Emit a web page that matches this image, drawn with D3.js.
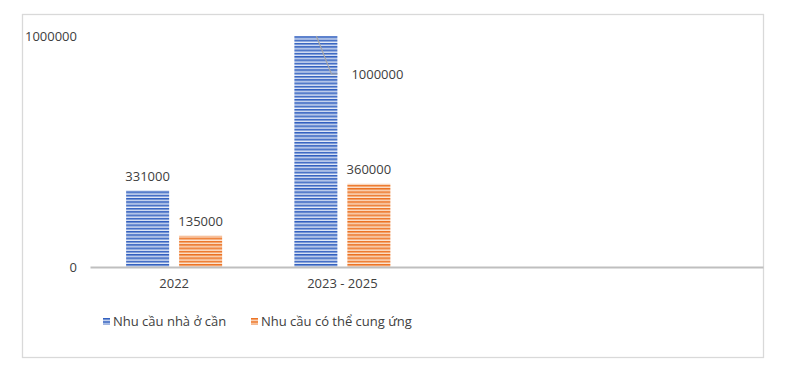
<!DOCTYPE html>
<html><head><meta charset="utf-8">
<script src="https://cdn.jsdelivr.net/npm/d3@7"></script>
<style>body{margin:0;background:#fff}svg{display:block}text{font-family:"Open Sans",sans-serif}</style>
</head><body><svg id="c" width="800" height="370"></svg>
<script>
const categories = ["2022", "2023 - 2025"];
const slotCount = 4;
const seriesNames = ["Nhu cầu nhà ở cần", "Nhu cầu có thể cung ứng"];
const demand = [331000, 1000000];
const supply = [135000, 360000];
const yTicks = [0, 1000000];

const svg = d3.select("#c");
const plot = {l: 90, r: 763, t: 36, b: 267};
const colors = [
  {dark: "#2F5DBE", mid: "#7797D6", light: "#E6ECF8"},
  {dark: "#EB7020", mid: "#F4A56E", light: "#FCE6D5"}
];
const defs = svg.append("defs");
colors.forEach((c, i) => {
  const p = defs.append("pattern").attr("id", "pat" + i).attr("patternUnits", "userSpaceOnUse")
    .attr("width", 4).attr("height", 3.3);
  p.append("rect").attr("width", 4).attr("height", 3.3).attr("fill", c.mid);
  p.append("rect").attr("width", 4).attr("height", 1.1).attr("y", 0).attr("fill", c.dark);
  p.append("rect").attr("width", 4).attr("height", 1.1).attr("y", 2.2).attr("fill", c.light);
});

svg.append("rect").attr("x", 22.5).attr("y", 14.5).attr("width", 741).attr("height", 343)
  .attr("fill", "#fff").attr("stroke", "#D9D9D9").attr("stroke-width", 1.3);

const x = d3.scaleBand().domain(d3.range(slotCount)).range([plot.l, plot.r]);
const y = d3.scaleLinear().domain([0, 1000000]).range([plot.b, plot.t]);
const barW = 43, gap = 10;
const offset = si => si === 0 ? -(gap / 2 + barW) : gap / 2;
const fs = 13, txt = "#404040";

svg.append("g").selectAll("text").data(yTicks).join("text")
  .attr("x", 77).attr("y", d => y(d) + 4.5).attr("text-anchor", "end")
  .attr("font-size", fs).attr("fill", txt).text(d => d3.format("d")(d));

const series = [demand, supply];
series.forEach((vals, si) => {
  svg.append("g").selectAll("rect").data(vals).join("rect")
    .attr("x", (d, i) => x(i) + x.bandwidth() / 2 + offset(si))
    .attr("y", d => y(d)).attr("width", barW).attr("height", d => y(0) - y(d))
    .attr("fill", `url(#pat${si})`);
});

const xAxis = d3.axisBottom(x).tickSize(0).tickFormat(i => categories[i] || "");
const ga = svg.append("g").attr("transform", `translate(0,${y(0)})`).call(xAxis);
ga.select(".domain").attr("stroke", "#BFBFBF").attr("stroke-width", 2);
ga.selectAll("text").attr("font-size", fs).attr("fill", txt).attr("dy", 0).attr("y", 21)
  .attr("font-family", "Open Sans, sans-serif");

series.forEach((vals, si) => {
  vals.forEach((v, i) => {
    const bx = x(i) + x.bandwidth() / 2 + offset(si);
    const cx = bx + barW / 2;
    if (v >= 1000000) {
      const ly = y(v) + 38;
      svg.append("path")
        .attr("d", `M${bx + 22},${y(v)} L${bx + 37},${ly} L${bx + barW},${ly}`)
        .attr("fill", "none").attr("stroke", "#A6A6A6").attr("stroke-width", 1.2);
      svg.append("text").attr("x", bx + barW + 14).attr("y", ly + 4.5).attr("font-size", fs).attr("fill", txt)
        .text(d3.format("d")(v));
    } else {
      svg.append("text").attr("x", cx).attr("y", y(v) - 10).attr("text-anchor", "middle")
        .attr("font-size", fs).attr("fill", txt).text(d3.format("d")(v));
    }
  });
});

const legX = [103, 251];
seriesNames.forEach((n, i) => {
  const g = svg.append("g").attr("transform", `translate(${legX[i]},318)`);
  g.append("rect").attr("width", 7).attr("height", 7).attr("fill", `url(#pat${i})`);
  g.append("text").attr("x", 10).attr("y", 8).attr("font-size", fs).attr("fill", txt).text(n);
});
</script></body></html>
